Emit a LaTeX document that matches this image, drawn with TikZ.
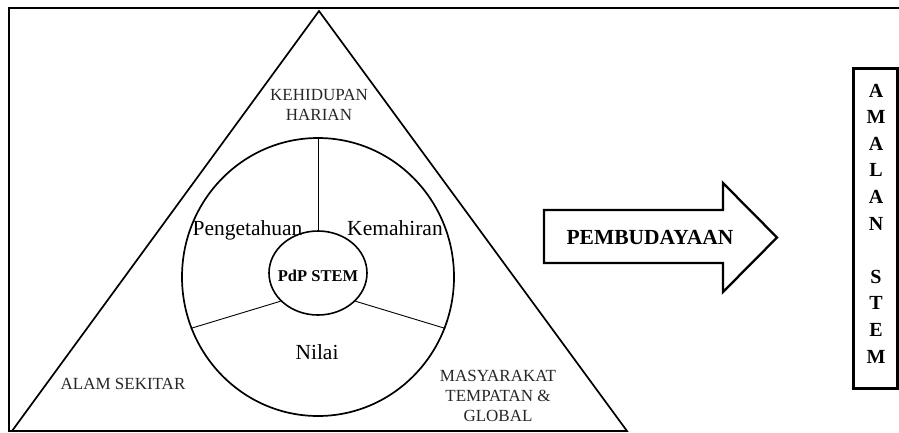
\documentclass[tikz,border=0pt]{standalone}
\usepackage{fontspec}
\setmainfont{Liberation Serif}
\usetikzlibrary{shapes.geometric}
\begin{document}
\begin{tikzpicture}[x=1pt,y=-1pt,
  lbl/.style={font=\fontsize{17}{20}\selectfont, text=black!85, inner sep=0, align=center, anchor=north},
  big/.style={font=\fontsize{21.5}{25}\selectfont, inner sep=0, anchor=base},
  bold/.style={font=\bfseries\fontsize{#1}{#1}\selectfont, inner sep=0, anchor=base},
  spoke/.style={line width=0.9pt},
  ring/.style={draw, ellipse, inner sep=0, line width=1.7pt}]
\useasboundingbox (0,0) rectangle (899,432);
% frame
\draw[line width=2.2pt] (899,8) -- (9,8) -- (9,431) -- (627,431);
% triangle
\draw[line width=1.7pt, line join=miter] (319,11) -- (12,431) -- (627,431) -- cycle;
% circles
\node[ring, minimum width=272pt, minimum height=278pt] (outer) at (318,277) {};
\node[ring, line width=1.6pt, minimum width=98pt, minimum height=84pt] (inner) at (318,273) {};
\draw[spoke] (inner.90) -- (outer.90);
\draw[spoke] (inner.217) -- (outer.202);
\draw[spoke] (inner.323) -- (outer.338);
% labels
\node[lbl] (kh) at (319,89) {KEHIDUPAN\\HARIAN};
\node[lbl] (as) at (123,378) {ALAM SEKITAR};
\node[lbl] (mt) at (498,370) {MASYARAKAT\\TEMPATAN \&\\GLOBAL};
\node[big] (peng) at (247.5,235) {Pengetahuan};
\node[big] (kem) at (395,235) {Kemahiran};
\node[big] (nil) at (317,359) {Nilai};
\node[bold=16.5] (pdp) at (318,281) {PdP STEM};
% arrow
\draw[line width=2.3pt, line join=miter] (544,210) -- (723,210) -- (723,183) -- (777,237.5) -- (723,292) -- (723,263) -- (544,263) -- cycle;
\node[bold=21.5] (pem) at (650,244) {PEMBUDAYAAN};
% box
\node[draw, line width=3pt, minimum width=44pt, minimum height=320pt, inner sep=0] (box) at (875,228) {};
\foreach \i/\l in {0/A,1/M,2/A,3/L,4/A,5/N,7/S,8/T,9/E,10/M}
  \node[bold=20] (am\i) at (876,{97+26.6*\i}) {\l};
\end{tikzpicture}
\end{document}
